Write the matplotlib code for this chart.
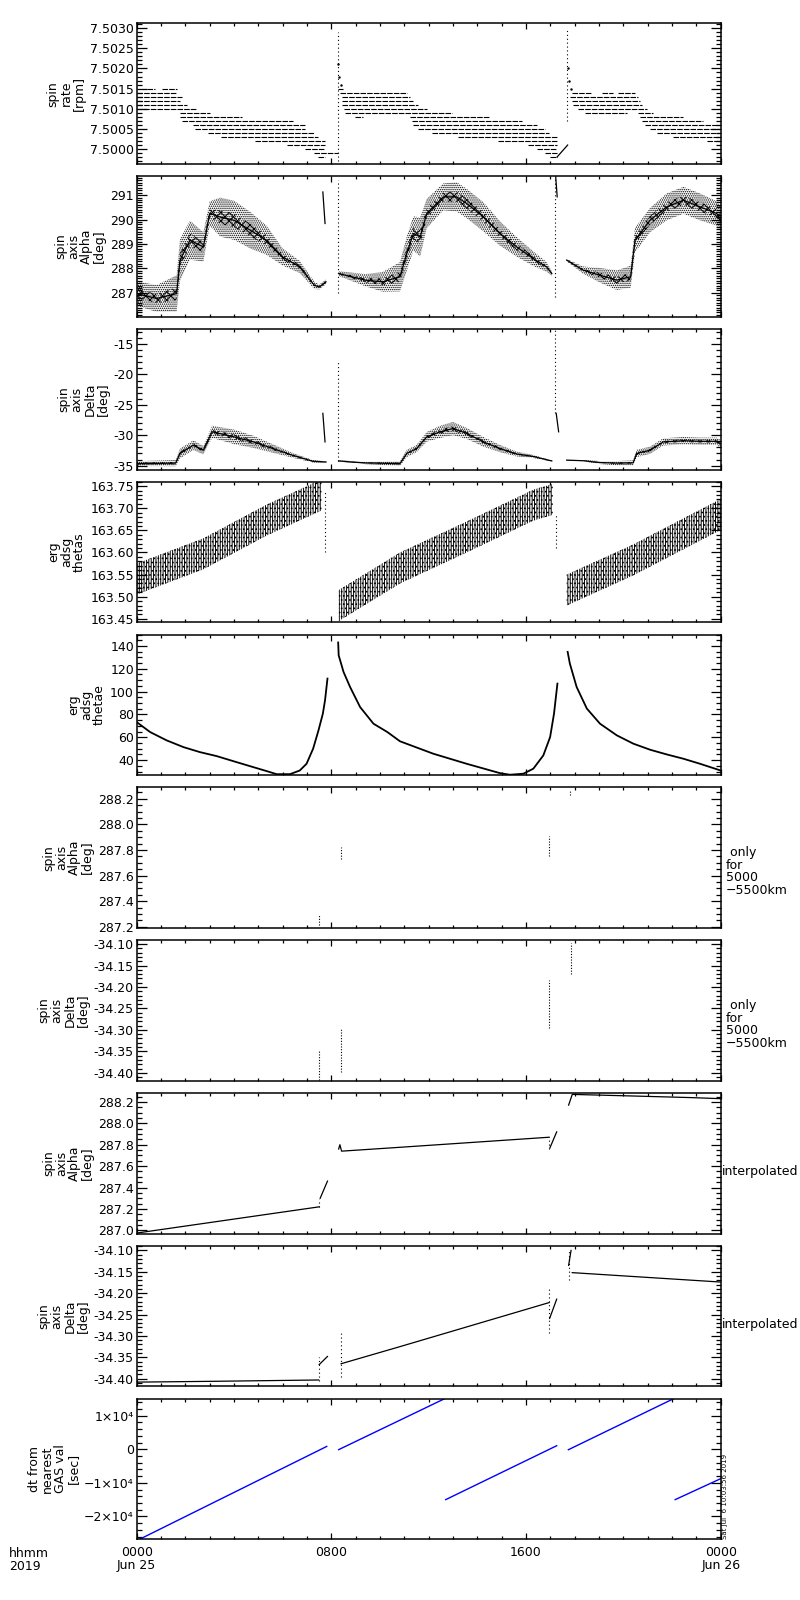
import numpy as np
import matplotlib.pyplot as plt
from matplotlib.ticker import MultipleLocator, FormatStrFormatter, FuncFormatter

plt.rcParams['font.family'] = ['DejaVu Sans']
plt.rcParams['hatch.linewidth'] = 0.7

# ---------------- data (time in hours from 2019-06-25 00:00) ----------------
# panel 1: spin rate, quantised rows (rpm, start h, end h)
rate_segs = [
    (7.5015, 0.41, 0.75), (7.5015, 1.03, 1.64), (7.5014, 0.0, 1.64), (7.5013, 0.0, 1.85),
    (7.5012, 0.0, 1.78), (7.5011, 0.0, 2.05), (7.5010, 0.0, 2.46), (7.5009, 1.78, 3.02),
    (7.5008, 1.78, 4.32), (7.5007, 1.85, 6.43), (7.5006, 2.33, 6.92), (7.5005, 2.40, 6.92),
    (7.5004, 2.95, 7.27), (7.5003, 3.45, 7.47), (7.5002, 4.86, 7.74), (7.5001, 6.17, 7.74),
    (7.5000, 6.92, 7.74), (7.4999, 7.27, 8.26), (7.4998, 7.47, 7.74),
    (7.5015, 8.26, 8.49), (7.5014, 8.36, 11.10), (7.5013, 8.45, 11.23), (7.5012, 8.45, 11.37),
    (7.5011, 8.45, 11.58), (7.5010, 8.50, 11.92), (7.5009, 8.56, 12.95), (7.5008, 8.97, 9.31),
    (7.5008, 11.23, 14.46), (7.5007, 11.30, 15.83), (7.5006, 11.37, 16.45), (7.5005, 11.58, 16.79),
    (7.5004, 12.12, 16.93), (7.5003, 13.22, 17.27), (7.5002, 14.86, 17.27), (7.5001, 16.10, 17.27),
    (7.5000, 16.45, 17.27), (7.4999, 16.79, 17.27), (7.4998, 17.00, 17.27),
    (7.5014, 17.88, 18.70), (7.5014, 19.11, 19.59), (7.5014, 19.78, 20.48), (7.5013, 17.81, 20.62),
    (7.5012, 17.88, 20.69), (7.5011, 17.95, 20.75), (7.5010, 18.15, 20.96), (7.5009, 18.42, 20.14),
    (7.5009, 20.62, 21.23), (7.5008, 20.69, 22.47), (7.5007, 20.75, 23.29), (7.5006, 20.89, 24.0),
    (7.5005, 21.10, 24.0), (7.5004, 21.37, 24.0), (7.5003, 22.06, 24.0), (7.5002, 23.43, 24.0),
]
rate_ramp_t = [17.27, 17.71]
rate_ramp_v = [7.4998, 7.5001]
rate_spinup = [(8.26, 7.49970, 7.50290), (17.70, 7.50070, 7.50300)]
rate_decay_t = [8.28, 8.33, 8.38, 17.72, 17.78, 17.85]
rate_decay_v = [7.5021, 7.5018, 7.5016, 7.5020, 7.5017, 7.5015]

# panel 2: spin axis alpha (scatter: middle and half spread)
alpha_t = [[0, 0.82, 1.64, 1.78, 2.19, 2.74, 3.0, 3.44, 4.0, 4.66, 5.33, 6.0, 6.7, 7.3, 7.5, 7.78],
           [8.3, 9.4, 10.1, 10.82, 11.1, 11.37, 11.65, 11.92, 12.6, 13.15, 13.56, 14.25, 14.93,
            15.62, 16.3, 16.85, 17.06],
           [17.67, 18.35, 19.04, 19.73, 20.3, 20.48, 21.1, 21.78, 22.47, 23.15, 23.84, 24.0]]
alpha_mid = [[286.97, 286.77, 286.97, 288.34, 289.16, 288.88, 290.25, 290.1, 289.97, 289.57,
              289.16, 288.47, 288.06, 287.31, 287.24, 287.45],
             [287.79, 287.52, 287.45, 287.66, 288.61, 289.43, 289.29, 290.25, 290.93, 290.93,
              290.66, 290.11, 289.43, 288.88, 288.4, 288.06, 287.79],
             [288.34, 287.93, 287.72, 287.52, 287.66, 289.16, 289.98, 290.52, 290.79, 290.52,
              290.25, 290.0]]
alpha_spread = [[0.5, 0.55, 0.75, 0.85, 0.8, 0.6, 0.5, 0.8, 0.8, 0.75, 0.6, 0.35, 0.25, 0.15, 0.1, 0.1],
                [0.1, 0.25, 0.4, 0.6, 0.7, 0.7, 0.8, 0.6, 0.55, 0.6, 0.6, 0.6, 0.5, 0.4, 0.3, 0.2, 0.1],
                [0.05, 0.15, 0.3, 0.4, 0.45, 0.5, 0.5, 0.55, 0.55, 0.55, 0.5, 0.5]]
alpha_jumps = [(7.65, 291.13, 7.74, 289.84), (17.22, 291.75, 17.28, 290.93)]
alpha_dots = [(8.26, 287.0, 291.6), (17.20, 286.83, 291.75)]

# panel 3: spin axis delta
delta_t = [[0, 1.6, 1.78, 2.33, 2.74, 3.1, 4.0, 4.8, 5.6, 6.4, 7.25, 7.78],
           [8.3, 9.4, 10.82, 11.1, 11.5, 11.92, 12.47, 13.0, 13.56, 14.25, 14.93, 15.62, 16.3, 17.06],
           [17.67, 18.35, 19.04, 19.73, 20.4, 20.55, 21.1, 21.64, 22.47, 23.15, 23.84, 24.0]]
delta_mid = [[-34.67, -34.6, -33.0, -31.64, -32.47, -29.44, -30.27, -31.1, -32.2, -33.3, -34.3, -34.4],
             [-34.24, -34.57, -34.67, -33.0, -32.2, -30.27, -29.44, -28.9, -29.7, -31.1, -32.2,
              -33.1, -33.5, -34.24],
             [-34.1, -34.2, -34.5, -34.6, -34.55, -33.0, -32.47, -31.1, -30.9, -31.0, -31.0, -31.4]]
delta_spread = [[0.4, 0.5, 0.8, 0.8, 0.7, 1.0, 1.2, 1.0, 0.7, 0.4, 0.2, 0.1],
                [0.1, 0.2, 0.4, 0.6, 0.6, 0.8, 1.0, 1.1, 0.9, 0.8, 0.6, 0.4, 0.25, 0.1],
                [0.05, 0.1, 0.25, 0.35, 0.4, 0.6, 0.6, 0.6, 0.6, 0.6, 0.6, 0.6]]
delta_jumps = [(7.65, -26.4, 7.74, -31.1), (17.24, -26.4, 17.34, -29.44)]
delta_dots = [(8.26, -34.3, -17.9), (17.17, -26.4, -12.75)]

# panel 4: erg adsg thetas (band middle)
thetas_t = [[0, 2.74, 5.33, 7.6], [8.3, 10.82, 13.56, 16.3, 17.1], [17.67, 20.4, 24.0]]
thetas_mid = [[163.54, 163.597, 163.673, 163.73], [163.48, 163.565, 163.635, 163.707, 163.72],
              [163.515, 163.583, 163.686]]
thetas_halfwidth = 0.035
thetas_dots = [(7.72, 163.60, 163.74), (17.25, 163.61, 163.69)]

# panel 5: erg adsg thetae
thetae_t = [[0, 0.55, 1.23, 1.92, 2.6, 3.29, 3.97, 4.66, 5.34, 5.75, 6.3, 6.7, 6.98, 7.25, 7.47,
             7.65, 7.74, 7.84],
            [8.28, 8.3, 8.5, 8.77, 9.18, 9.73, 10.3, 10.82, 12.19, 13.56, 14.93, 15.34, 15.89, 16.3,
             16.71, 16.99, 17.15, 17.29],
            [17.71, 17.8, 18.08, 18.5, 19.04, 19.73, 20.41, 21.1, 21.78, 22.47, 23.15, 24.0]]
thetae_v = [[73.3, 64.6, 57.3, 51.4, 47.0, 43.5, 39.1, 34.7, 30.4, 27.7, 27.7, 30.9, 36.8, 50.0,
             66.0, 80.7, 92.4, 111.4],
            [143, 131.8, 117.2, 104, 86.5, 71.9, 64.6, 56.5, 45.6, 36.8, 28.6, 27.2, 28.1, 32.5,
             44.1, 60.2, 80.7, 107],
            [134.8, 124.6, 104, 85.1, 71.9, 61.7, 54.4, 49.1, 45.0, 41.2, 36.8, 30.9]]

# panels 6, 7: only for 5000-5500 km (hour, low, high)
alpha_km = [(7.50, 287.21, 287.30), (8.40, 287.73, 287.82), (16.95, 287.75, 287.91), (17.80, 288.23, 288.27)]
delta_km = [(7.50, -34.416, -34.35), (8.40, -34.397, -34.296), (16.95, -34.296, -34.183),
            (17.83, -34.17, -34.098)]

# panel 8: interpolated alpha
alpha_int_t = [[0.0, 7.5], [7.54, 7.84], [8.30, 8.35, 8.42, 10.82, 16.95], [16.98, 17.26],
               [17.75, 17.90, 20.4, 22.8, 24.0]]
alpha_int_v = [[286.975, 287.22], [287.30, 287.46], [287.76, 287.80, 287.74, 287.776, 287.87],
               [287.77, 287.92], [288.17, 288.27, 288.255, 288.24, 288.23]]
alpha_int_dots = [(7.50, 287.22, 287.29), (16.95, 287.76, 287.87)]

# panel 9: interpolated delta
delta_int_t = [[0.0, 3.3, 7.48], [7.50, 7.84], [8.40, 10.82, 16.95], [16.97, 17.26], [17.75, 17.85],
               [17.90, 24.0]]
delta_int_v = [[-34.408, -34.406, -34.403], [-34.367, -34.348], [-34.365, -34.325, -34.222],
               [-34.259, -34.214], [-34.135, -34.100], [-34.152, -34.174]]
delta_int_dots = [(7.48, -34.405, -34.35), (8.40, -34.395, -34.294), (16.95, -34.294, -34.185),
                  (17.78, -34.17, -34.10)]

# panel 10: dt from nearest GAS value [sec]
dt_t = [[0.0, 7.81], [8.30, 12.67], [12.70, 17.26], [17.74, 22.08], [22.13, 24.0]]
dt_v = [[-27250, 860], [-100, 15150], [-15000, 1070], [-120, 15150], [-15000, -8750]]

# ---------------- layout ----------------
W, H = 800, 1600
fig = plt.figure(figsize=(8, 16), dpi=100)
x0, x1 = 136.7, 720.7
axes = []
for k in range(10):
    top = 23.3 + 152.8 * k
    ax = fig.add_axes([x0 / W, 1 - (top + 140.7) / H, (x1 - x0) / W, 140.7 / H])
    axes.append(ax)

lw = 0.9
for ax in axes:
    ax.set_xlim(0, 24)
    ax.xaxis.set_major_locator(MultipleLocator(8))
    ax.xaxis.set_minor_locator(MultipleLocator(1))
    ax.tick_params(axis='x', which='major', direction='in', top=True, bottom=True, length=4, width=lw)
    ax.tick_params(axis='x', which='minor', direction='in', top=True, bottom=True, length=2, width=lw)
    ax.tick_params(axis='y', which='major', direction='in', left=True, right=True, length=7.5,
                   width=lw, labelsize=9, pad=2)
    ax.tick_params(axis='y', which='minor', direction='in', left=True, right=True, length=3.8, width=lw)
    for s in ax.spines.values():
        s.set_linewidth(1.1)
    if ax is not axes[-1]:
        ax.set_xticklabels([])

dot_style = dict(color='k', lw=0.8, ls=(0, (1, 2.5)))
line_style = dict(color='k', lw=0.9)

# panel 1
ax = axes[0]
for v, a, b in rate_segs:
    ax.plot([a, b], [v, v], color='k', lw=0.8, ls=(0, (5, 1)))
ax.plot(rate_ramp_t, rate_ramp_v, **line_style)
for t, a, b in rate_spinup:
    ax.plot([t, t], [a, b], **dot_style)
ax.plot(rate_decay_t, rate_decay_v, 'k.', ms=1.5)
ax.set_ylim(7.49963, 7.50312)
ax.yaxis.set_major_locator(MultipleLocator(0.0005))
ax.yaxis.set_minor_locator(MultipleLocator(0.0001))
ax.yaxis.set_major_formatter(FormatStrFormatter('%.4f'))
ax.set_ylabel('spin\nrate\n[rpm]')


def scatter_band(ax, ts, mids, spreads):
    for t, m, s in zip(ts, mids, spreads):
        m = np.array(m)
        s = np.array(s)
        ax.fill_between(t, m - s, m + s, facecolor='none', edgecolor='k', hatch='........', linewidth=0)
        ax.fill_between(t, m - 0.35 * s, m + 0.35 * s, facecolor='none', edgecolor='k',
                        hatch='xxxx', linewidth=0)
        ax.plot(t, m, color='k', lw=0.9)


# panel 2
ax = axes[1]
scatter_band(ax, alpha_t, alpha_mid, alpha_spread)
for a, va, b, vb in alpha_jumps:
    ax.plot([a, b], [va, vb], **line_style)
for t, a, b in alpha_dots:
    ax.plot([t, t], [a, b], **dot_style)
ax.set_ylim(286.02, 291.78)
ax.yaxis.set_major_locator(MultipleLocator(1))
ax.yaxis.set_minor_locator(MultipleLocator(0.1))
ax.yaxis.set_major_formatter(FormatStrFormatter('%d'))
ax.set_ylabel('spin\naxis\nAlpha\n[deg]')

# panel 3
ax = axes[2]
scatter_band(ax, delta_t, delta_mid, delta_spread)
for a, va, b, vb in delta_jumps:
    ax.plot([a, b], [va, vb], **line_style)
for t, a, b in delta_dots:
    ax.plot([t, t], [a, b], **dot_style)
ax.set_ylim(-35.66, -12.5)
ax.yaxis.set_major_locator(MultipleLocator(5))
ax.yaxis.set_minor_locator(MultipleLocator(1))
ax.yaxis.set_major_formatter(FormatStrFormatter('%d'))
ax.set_ylabel('spin\naxis\nDelta\n[deg]')

# panel 4
ax = axes[3]
for t, m in zip(thetas_t, thetas_mid):
    m = np.array(m)
    ax.fill_between(t, m - thetas_halfwidth, m + thetas_halfwidth, facecolor='none',
                    edgecolor='k', hatch='|||||||', linewidth=0)
    ax.fill_between(t, m - thetas_halfwidth, m + thetas_halfwidth, facecolor='none',
                    edgecolor='k', hatch='....', linewidth=0)
for t, a, b in thetas_dots:
    ax.plot([t, t], [a, b], **dot_style)
ax.set_ylim(163.442, 163.76)
ax.yaxis.set_major_locator(MultipleLocator(0.05))
ax.yaxis.set_minor_locator(MultipleLocator(0.01))
ax.yaxis.set_major_formatter(FormatStrFormatter('%.2f'))
ax.set_ylabel('erg\nadsg\nthetas')

# panel 5
ax = axes[4]
for t, v in zip(thetae_t, thetae_v):
    ax.plot(t, v, color='k', lw=1.3)
ax.set_ylim(26.8, 150)
ax.yaxis.set_major_locator(MultipleLocator(20))
ax.yaxis.set_minor_locator(MultipleLocator(5))
ax.yaxis.set_major_formatter(FormatStrFormatter('%d'))
ax.set_ylabel('erg\nadsg\nthetae')

# panel 6, 7
ax = axes[5]
for t, a, b in alpha_km:
    ax.plot([t, t], [a, b], color='k', lw=0.8, ls=(0, (1, 1.5)))
ax.set_ylim(287.19, 288.29)
ax.yaxis.set_major_locator(MultipleLocator(0.2))
ax.yaxis.set_minor_locator(MultipleLocator(0.05))
ax.yaxis.set_major_formatter(FormatStrFormatter('%.1f'))
ax.set_ylabel('spin\naxis\nAlpha\n[deg]')

ax = axes[6]
for t, a, b in delta_km:
    ax.plot([t, t], [a, b], color='k', lw=0.8, ls=(0, (1, 1.5)))
ax.set_ylim(-34.4186, -34.0907)
ax.yaxis.set_major_locator(MultipleLocator(0.05))
ax.yaxis.set_minor_locator(MultipleLocator(0.01))
ax.yaxis.set_major_formatter(FormatStrFormatter('%.2f'))
ax.set_ylabel('spin\naxis\nDelta\n[deg]')

for ax in axes[5:7]:
    ax.text(1.009, 0.40, ' only\nfor\n5000\n\u22125500km', transform=ax.transAxes,
            ha='left', va='center', fontsize=9, linespacing=0.95)

# panel 8
ax = axes[7]
for t, v in zip(alpha_int_t, alpha_int_v):
    ax.plot(t, v, **line_style)
for t, a, b in alpha_int_dots:
    ax.plot([t, t], [a, b], **dot_style)
ax.set_ylim(286.97, 288.284)
ax.yaxis.set_major_locator(MultipleLocator(0.2))
ax.yaxis.set_minor_locator(MultipleLocator(0.05))
ax.yaxis.set_major_formatter(FormatStrFormatter('%.1f'))
ax.set_ylabel('spin\naxis\nAlpha\n[deg]')

# panel 9
ax = axes[8]
for t, v in zip(delta_int_t, delta_int_v):
    ax.plot(t, v, **line_style)
for t, a, b in delta_int_dots:
    ax.plot([t, t], [a, b], **dot_style)
ax.set_ylim(-34.418, -34.089)
ax.yaxis.set_major_locator(MultipleLocator(0.05))
ax.yaxis.set_minor_locator(MultipleLocator(0.01))
ax.yaxis.set_major_formatter(FormatStrFormatter('%.2f'))
ax.set_ylabel('spin\naxis\nDelta\n[deg]')

for ax in axes[7:9]:
    ax.text(1.002, 0.44, 'interpolated', transform=ax.transAxes, ha='left', va='center', fontsize=9)

# panel 10
ax = axes[9]
for t, v in zip(dt_t, dt_v):
    ax.plot(t, v, color='#0000ff', lw=1.0)
ax.set_ylim(-26800, 15150)
ax.yaxis.set_major_locator(MultipleLocator(10000))
ax.yaxis.set_minor_locator(MultipleLocator(2000))


def sci(v, pos):
    n = int(round(v / 10000))
    if n == 0:
        return '0'
    return ('%d' % n).replace('-', '\u2212') + '\u00d710\u2074'


ax.yaxis.set_major_formatter(FuncFormatter(sci))
ax.set_ylabel('dt from\nnearest\nGAS val\n[sec]')
ax.set_xticks([0, 8, 16, 24])
labs = ax.set_xticklabels(['0000\nJun 25', '0800', '1600', '0000\nJun 26'], fontsize=9)
for lab in labs:
    lab.set_linespacing(1.0)
    lab.set_verticalalignment('top')
ax.tick_params(axis='x', which='major', pad=5)

for ax in axes:
    ax.yaxis.label.set_fontsize(9)
    ax.yaxis.label.set_linespacing(1.0)
    ax.yaxis.labelpad = 3

fig.text(9 / W, 1 - 1547 / H, 'hhmm\n2019', ha='left', va='top', fontsize=9, linespacing=1.0)
fig.text(722 / W, 1 - 1539 / H, 'Sat Jul  6 10:03:56 2019', rotation=90, ha='left', va='bottom',
         fontsize=5)

fig.savefig('out.png', dpi=100)
